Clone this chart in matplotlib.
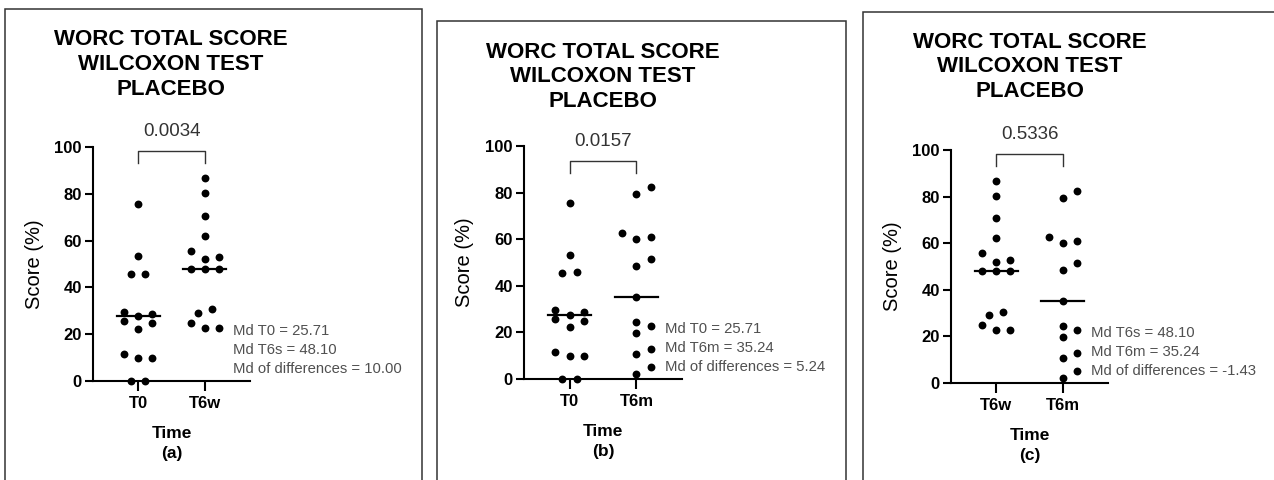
import numpy as np
import matplotlib.pyplot as plt
from matplotlib.patches import Rectangle

plt.rcParams['font.family'] = ['Liberation Sans', 'DejaVu Sans']

# scores (%)
t0 = [75.5, 53.4, 45.6, 45.9, 28.8, 29.5, 27.6, 25.6, 24.8, 22.4, 9.8, 11.7, 9.8, 0.0, 0.0]
t6w = [86.9, 80.2, 70.7, 62.1, 55.6, 52.1, 53.0, 48.0, 48.0, 48.0, 30.6, 29.2, 25.0, 22.6, 22.6]
t6m = [82.2, 79.2, 62.6, 61.0, 60.1, 51.7, 48.6, 35.3, 24.3, 22.6, 19.7, 12.9, 10.7, 5.3, 2.1]
# horizontal line drawn through each group, as it appears on the chart
median_lines = {'T0': 27.6, 'T6w': 48.0, 'T6m': 35.3}

series = {'T0': t0, 'T6w': t6w, 'T6m': t6m}
panel_groups = [('T0', 'T6w'), ('T0', 'T6m'), ('T6w', 'T6m')]
p_values = ['0.0034', '0.0157', '0.5336']
md_text = [
    ['Md T0 = 25.71', 'Md T6s = 48.10', 'Md of differences = 10.00'],
    ['Md T0 = 25.71', 'Md T6m = 35.24', 'Md of differences = 5.24'],
    ['Md T6s = 48.10', 'Md T6m = 35.24', 'Md of differences = -1.43'],
]
panel_tags = ['(a)', '(b)', '(c)']
title = 'WORC TOTAL SCORE\nWILCOXON TEST\nPLACEBO'

W, H = 1274, 480
fig = plt.figure(figsize=(W / 100, H / 100), dpi=100)

# pixel layout: axes (left, right, y=100, y=0), frame (left, right, top), title centre
axes_px = [(93, 250, 147, 381), (524, 682, 146, 379), (951, 1108, 150, 383)]
frame_px = [(5, 422, 9), (437, 846, 21), (863, 1290, 12)]
title_px = [(171, 64.5), (603, 77), (1030, 67)]


def swarm(vals, step=0.21, row_gap=3.6, tie=1.5):
    # spread close values sideways, roughly like a prism scatter plot
    vals = np.asarray(vals, float)
    order = np.argsort(vals, kind='stable')
    offs = np.zeros(len(vals))
    rows, cur = [], []
    for i in order:
        if cur and vals[i] - vals[cur[0]] >= row_gap:
            rows.append(cur)
            cur = []
        cur.append(i)
    rows.append(cur)
    slots = np.array([0, 1, -1, 2, -2])
    for r in rows:
        n = len(r)
        if n > 1 and np.ptp(vals[r]) < tie:
            offs[r] = (np.arange(n) - (n - 1) / 2) * step
        else:
            offs[r] = slots[:n] * step
    return offs


for k, groups in enumerate(panel_groups):
    l, r, t, b = axes_px[k]
    ax = fig.add_axes([l / W, 1 - b / H, (r - l) / W, (b - t) / H])

    for j, name in enumerate(groups):
        vals = np.array(series[name])
        ax.scatter(j + swarm(vals), vals, s=32, color='black', linewidths=0,
                   zorder=3, clip_on=False)
        med = median_lines[name]
        ax.plot([j - 0.32, j + 0.32], [med, med], color='black', lw=1.6,
                zorder=4, clip_on=False)

    ax.set_xlim(-0.68, 1.68)
    ax.set_ylim(0, 100)
    for s in ['top', 'right']:
        ax.spines[s].set_visible(False)
    for s in ['left', 'bottom']:
        ax.spines[s].set_linewidth(1.5)

    ax.set_xticks([0, 1])
    ax.set_xticklabels(groups, fontsize=12, fontweight='bold')
    ax.set_yticks(np.arange(0, 101, 20))
    ax.set_yticklabels([str(v) for v in range(0, 101, 20)], fontsize=12, fontweight='bold')
    ax.tick_params(axis='y', length=6, width=1.5, pad=2)
    ax.tick_params(axis='x', length=7, width=1.5, pad=3.5)

    # significance bracket
    top = max(max(series[g]) for g in groups) + 11.5
    ax.plot([0, 0, 1, 1], [top - 5.3, top, top, top - 5.3], color='#333333',
            lw=1.0, clip_on=False)
    ax.text(0.5, top + 8.4, p_values[k], ha='center', va='center',
            fontsize=13.5, color='#333333', clip_on=False)

    ax.set_ylabel('Score (%)', fontsize=14.5, va='center')
    ax.yaxis.set_label_coords(-0.375, 0.5)
    ax.set_xlabel('Time\n' + panel_tags[k], fontsize=12.5, fontweight='bold',
                  va='center', linespacing=1.4)
    ax.xaxis.set_label_coords(0.5, -0.268)

    for i, line in enumerate(md_text[k]):
        ax.text(1.42, 21.4 - 8.1 * i, line, ha='left', va='center',
                fontsize=10.7, color='#505050', clip_on=False)

    tx, ty = title_px[k]
    fig.text(tx / W, 1 - ty / H, title, ha='center', va='center',
             fontsize=16, fontweight='bold', linespacing=1.22)

    x0, x1, y0 = frame_px[k]
    fig.add_artist(Rectangle((x0 / W, -0.05), (x1 - x0) / W, 1.05 - y0 / H,
                             transform=fig.transFigure, fill=False,
                             edgecolor='#333333', lw=1.1))

fig.savefig('out.png', dpi=100)
